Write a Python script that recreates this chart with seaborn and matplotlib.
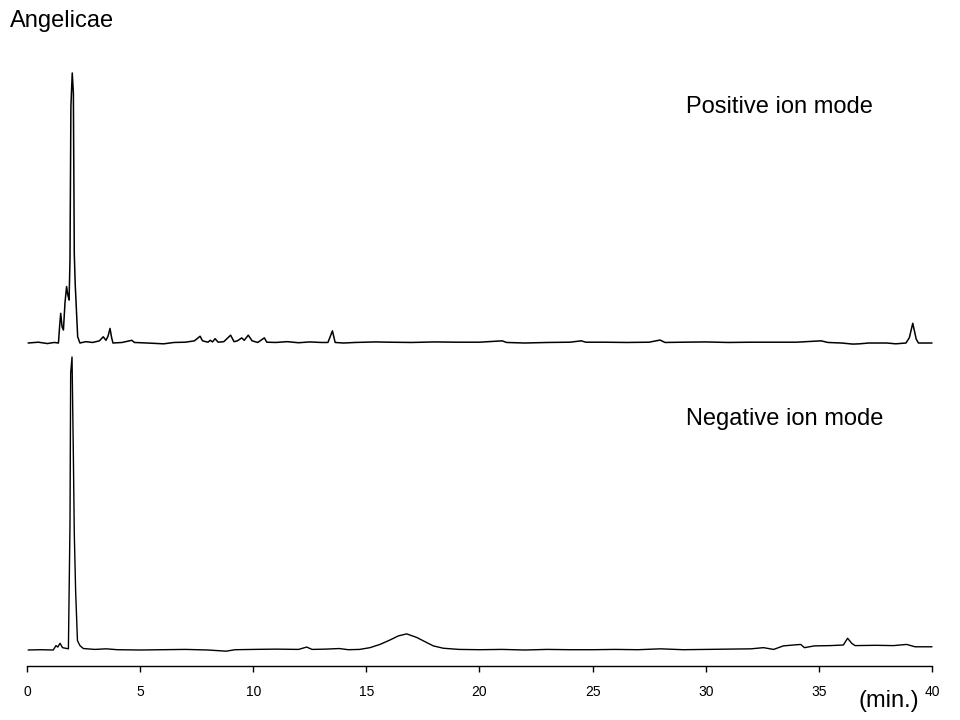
#!/usr/bin/env python3
# Chromatogrammes Angelicae, modes ion positif / négatif

import matplotlib
matplotlib.use("Agg")
import matplotlib.pyplot as plt
import pandas as pd
import seaborn as sns

# Trace mode positif : temps (min) et intensité relative (%)
pos_time = [0.05, 0.5, 0.9, 1.2, 1.39, 1.44, 1.49, 1.55, 1.61, 1.68, 1.75, 1.80,
            1.86, 1.90, 1.94, 2.00, 2.05, 2.09, 2.13, 2.17, 2.24, 2.34, 2.6, 2.9,
            3.2, 3.37, 3.49, 3.58, 3.67, 3.74, 3.80, 4.2, 4.63, 4.75, 5.3, 6.04,
            6.5, 7.0, 7.4, 7.65, 7.76, 8.0, 8.1, 8.2, 8.31, 8.45, 8.7, 9.0, 9.15,
            9.3, 9.49, 9.6, 9.78, 9.95, 10.2, 10.49, 10.6, 11.0, 11.5, 12.0, 12.5,
            13.0, 13.3, 13.5, 13.62, 14.0, 14.5, 15.4, 16.0, 17.0, 18.0, 19.0,
            20.0, 21.0, 21.2, 22.0, 23.0, 24.0, 24.5, 24.7, 25.5, 26.5, 27.5,
            27.98, 28.2, 29.0, 30.0, 31.0, 32.0, 33.0, 34.0, 35.1, 35.4, 36.0,
            36.5, 36.8, 37.2, 38.0, 38.4, 38.85, 39.0, 39.15, 39.3, 39.4, 40.0]
pos_int = [0, 0.3, -0.2, 0.2, 0, 6, 11, 6, 4.8, 15, 20.9, 18,
           15.9, 30.7, 87.5, 100, 92.5, 33, 22, 14.8, 2.3, 0, 0.5, 0.2,
           0.8, 2.3, 1.0, 2.5, 5.4, 2.0, 0, 0.2, 1.0, 0.2, 0, -0.3,
           0.2, 0.3, 0.8, 2.5, 0.8, 0.3, 1.0, 0.4, 1.6, 0.3, 0.5, 2.9, 0.5,
           0.8, 1.9, 1.0, 2.9, 0.8, 0.2, 1.9, 0.3, 0.2, 0.5, 0.1, 0.4,
           0.2, 0.2, 4.5, 0.2, 0.0, 0.2, 0.4, 0.3, 0.2, 0.4, 0.3,
           0.3, 0.8, 0.2, 0.0, 0.2, 0.3, 0.8, 0.3, 0.3, 0.2, 0.3,
           1.1, 0.2, 0.3, 0.4, 0.2, 0.3, 0.3, 0.3, 0.8, 0.2, 0.0,
           -0.4, -0.3, 0.0, 0.0, -0.3, 0.0, 2.0, 7.3, 1.5, 0.0, 0.0]

# Trace mode négatif
neg_time = [0.05, 0.6, 1.16, 1.28, 1.36, 1.46, 1.57, 1.83, 1.90, 1.93, 1.99, 2.05,
            2.09, 2.15, 2.23, 2.34, 2.49, 3.0, 3.5, 4.0, 5.0, 6.0, 7.0, 8.0, 8.8,
            9.2, 10.0, 11.0, 12.0, 12.36, 12.6, 13.2, 13.8, 14.2, 14.7, 15.16,
            15.6, 16.04, 16.41, 16.78, 17.22, 17.6, 17.96, 18.4, 19.1, 20.0, 21.0,
            22.0, 23.0, 24.0, 25.0, 26.0, 27.0, 28.0, 29.0, 30.0, 31.0, 32.0,
            32.55, 33.0, 33.43, 33.87, 34.2, 34.36, 34.8, 35.5, 36.08, 36.27,
            36.45, 36.6, 37.5, 38.3, 38.88, 39.25, 40.0]
neg_int = [0, 0.1, 0, 1.5, 1.0, 2.3, 0.8, 0.4, 43, 94.5, 100, 65.9,
           39.8, 20, 3.2, 1.5, 0.5, 0.2, 0.4, 0.1, 0, 0.1, 0.2, 0, -0.4,
           0.1, 0.2, 0.3, 0.2, 1.0, 0.2, 0.3, 0.5, 0.1, 0.2, 0.8,
           1.9, 3.4, 4.8, 5.5, 4.3, 2.8, 1.4, 0.6, 0.2, 0.1, 0.2,
           0.0, 0.2, 0.1, 0.1, 0.2, 0.1, 0.4, 0.1, 0.2, 0.3, 0.4,
           0.8, 0.2, 1.4, 1.7, 1.9, 0.8, 1.4, 1.5, 1.7, 4.0,
           2.3, 1.5, 1.6, 1.5, 1.9, 1.1, 1.1]

x_ticks = [0, 5, 10, 15, 20, 25, 30, 35, 40]

df = pd.concat([
    pd.DataFrame({"mode": "Positive", "temps": pos_time, "intensite": pos_int}),
    pd.DataFrame({"mode": "Negative", "temps": neg_time, "intensite": neg_int}),
])

sns.set_style("white")
plt.rcParams["font.family"] = ["Liberation Sans", "DejaVu Sans"]
plt.rcParams["text.color"] = "black"
plt.rcParams["xtick.color"] = "black"
plt.rcParams["xtick.labelcolor"] = "black"

fig = plt.figure(figsize=(9.6, 7.2), dpi=100)

# axes du haut (positif) et du bas (négatif), placés à la main
ax_pos = fig.add_axes([0.028125, 0.51111, 0.942708, 0.40556])
ax_neg = fig.add_axes([0.028125, 0.075, 0.942708, 0.43611])

sns.lineplot(data=df[df["mode"] == "Positive"], x="temps", y="intensite",
             estimator=None, sort=False, color="black", linewidth=1.1, ax=ax_pos)
sns.lineplot(data=df[df["mode"] == "Negative"], x="temps", y="intensite",
             estimator=None, sort=False, color="black", linewidth=1.0, ax=ax_neg)

ax_pos.set_ylim(-3.33, 104.8)
ax_neg.set_ylim(-5.46, 101.7)

for ax in (ax_pos, ax_neg):
    ax.set_xlim(0, 40)
    ax.set_xlabel("")
    ax.set_ylabel("")
    ax.set_yticks([])
    ax.patch.set_alpha(0)
    for s in ax.spines.values():
        s.set_visible(False)
    for line in ax.get_lines():
        line.set_clip_on(False)

ax_pos.set_xticks([])

ax_neg.spines["bottom"].set_visible(True)
ax_neg.spines["bottom"].set_color("black")
ax_neg.spines["bottom"].set_linewidth(1.0)
ax_neg.set_xticks(x_ticks)
ax_neg.set_xticklabels([str(t) for t in x_ticks])
ax_neg.tick_params(axis="x", direction="out", length=4.3, width=1.0,
                   color="black", labelcolor="black", labelsize=10, pad=9.5,
                   bottom=True)

# textes
fig.text(10 / 960, 1 - 26.7 / 720, "Angelicae", fontsize=17, va="baseline")
fig.text(686 / 960, 1 - 113.3 / 720, "Positive ion mode", fontsize=17, va="baseline")
fig.text(686 / 960, 1 - 425 / 720, "Negative ion mode", fontsize=17, va="baseline")
fig.text(859 / 960, 1 - 707 / 720, "(min.)", fontsize=17, va="baseline")

fig.savefig("out.png", dpi=100)
